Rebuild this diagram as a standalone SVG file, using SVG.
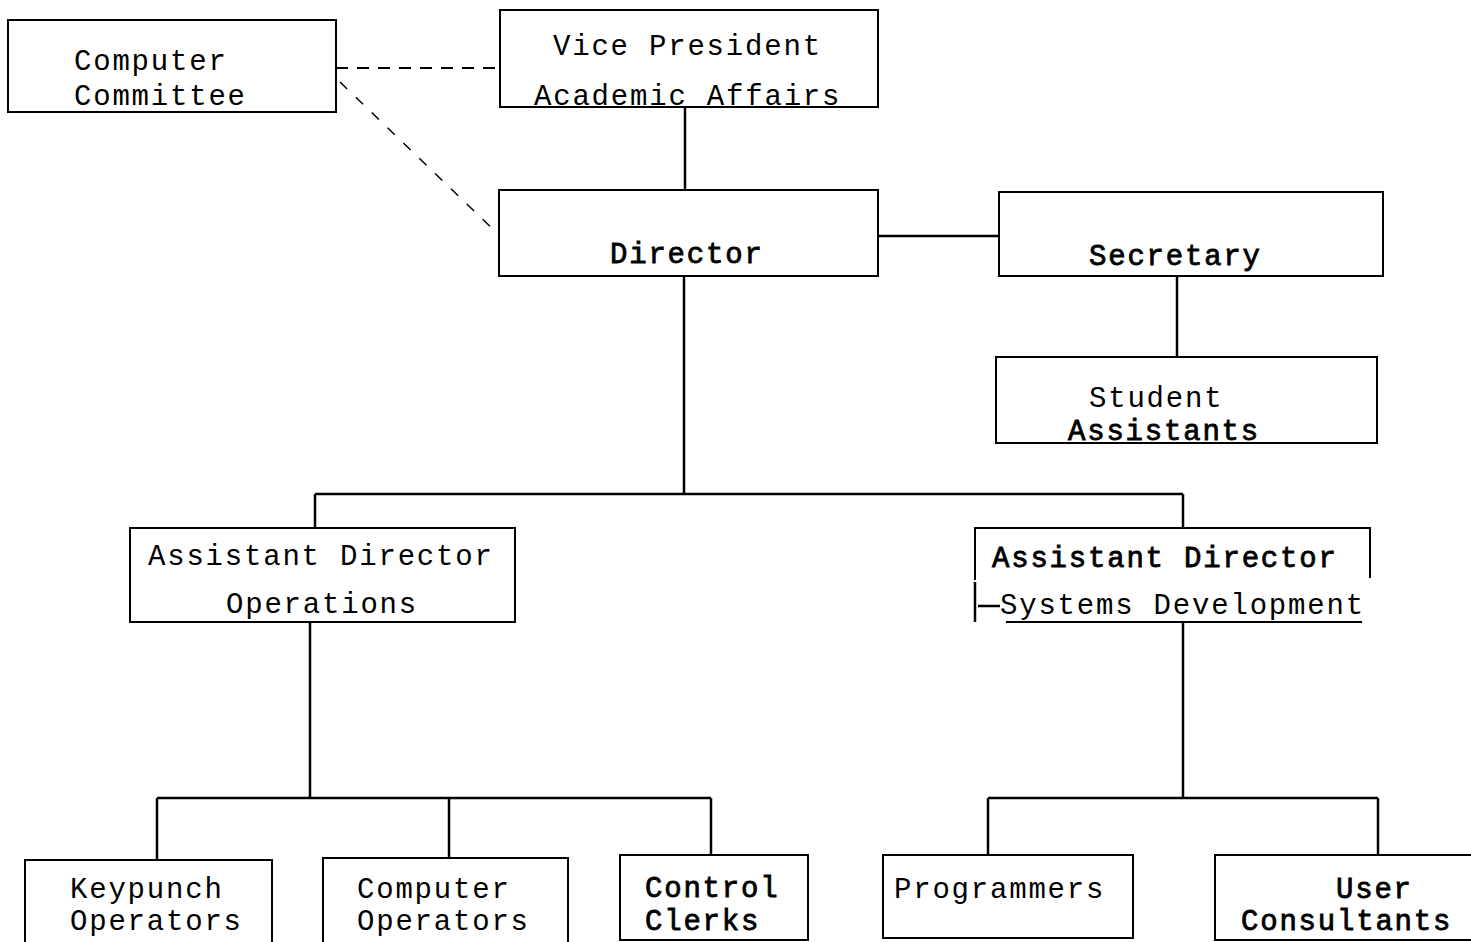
<svg xmlns="http://www.w3.org/2000/svg" width="1471" height="942" viewBox="0 0 1471 942">
<style>
.box{fill:none;stroke:#000;stroke-width:2}
.ln{fill:none;stroke:#000;stroke-width:2.5}
.dash{fill:none;stroke:#000;stroke-width:2;stroke-dasharray:12 9}
.dash2{fill:none;stroke:#000;stroke-width:1.5;stroke-dasharray:10 12}
text{font-family:"Liberation Mono","Courier New",monospace;font-size:29px;letter-spacing:1.8px;fill:#000}
.b{stroke:#000;stroke-width:0.8}
</style>
<rect width="1471" height="942" fill="#fff"/>
<g id="connectors">
<line class="dash" x1="336" y1="68" x2="500" y2="68"/>
<line class="dash2" x1="340" y1="82" x2="498" y2="234"/>
<line class="ln" x1="685" y1="107" x2="685" y2="190"/>
<line class="ln" x1="878" y1="236" x2="999" y2="236"/>
<line class="ln" x1="1177" y1="276" x2="1177" y2="357"/>
<line class="ln" x1="684" y1="276" x2="684" y2="494"/>
<line class="ln" x1="315" y1="494" x2="1183" y2="494"/>
<line class="ln" x1="315" y1="494" x2="315" y2="528"/>
<line class="ln" x1="1183" y1="494" x2="1183" y2="528"/>
<line class="ln" x1="310" y1="622" x2="310" y2="798"/>
<line class="ln" x1="157" y1="798" x2="711" y2="798"/>
<line class="ln" x1="157" y1="798" x2="157" y2="860"/>
<line class="ln" x1="449" y1="798" x2="449" y2="858"/>
<line class="ln" x1="711" y1="798" x2="711" y2="855"/>
<line class="ln" x1="1183" y1="622" x2="1183" y2="798"/>
<line class="ln" x1="988" y1="798" x2="1378" y2="798"/>
<line class="ln" x1="988" y1="798" x2="988" y2="855"/>
<line class="ln" x1="1378" y1="798" x2="1378" y2="855"/>
</g>
<g id="computer-committee">
<rect class="box" x="8" y="20" width="328" height="92"/>
<text x="74" y="70">Computer</text>
<text x="74" y="105">Committee</text>
</g>
<g id="vice-president">
<rect class="box" x="500" y="10" width="378" height="97"/>
<text x="553" y="55">Vice President</text>
<text x="534" y="105">Academic Affairs</text>
</g>
<g id="director">
<rect class="box" x="499" y="190" width="379" height="86"/>
<text class="b" x="610" y="263">Director</text>
</g>
<g id="secretary">
<rect class="box" x="999" y="192" width="384" height="84"/>
<text class="b" x="1089" y="265">Secretary</text>
</g>
<g id="student-assistants">
<rect class="box" x="996" y="357" width="381" height="86"/>
<text x="1089" y="407">Student</text>
<text class="b" x="1068" y="440">Assistants</text>
</g>
<g id="ad-operations">
<rect class="box" x="130" y="528" width="385" height="94"/>
<text x="148" y="565">Assistant Director</text>
<text x="226" y="613">Operations</text>
</g>
<g id="ad-systems">
<path class="box" d="M975 580 V528 H1370 V578"/>
<path class="ln" d="M975 582 V622"/>
<line class="box" x1="1006" y1="622" x2="1362" y2="622"/>
<line class="ln" x1="978" y1="606" x2="1000" y2="606" stroke-width="4"/>
<text class="b" x="992" y="567">Assistant Director</text>
<text x="1000" y="614">Systems Development</text>
</g>
<g id="keypunch">
<rect class="box" x="25" y="860" width="247" height="90"/>
<text x="70" y="898">Keypunch</text>
<text x="70" y="930">Operators</text>
</g>
<g id="computer-operators">
<rect class="box" x="323" y="858" width="245" height="90"/>
<text x="357" y="898">Computer</text>
<text x="357" y="930">Operators</text>
</g>
<g id="control-clerks">
<rect class="box" x="620" y="855" width="188" height="85"/>
<text class="b" x="645" y="897">Control</text>
<text class="b" x="645" y="930">Clerks</text>
</g>
<g id="programmers">
<rect class="box" x="883" y="855" width="250" height="83"/>
<text x="894" y="898">Programmers</text>
</g>
<g id="user-consultants">
<path class="box" d="M1471 855 H1215 V940 H1471"/>
<text class="b" x="1336" y="898">User</text>
<text class="b" x="1241" y="930">Consultants</text>
</g>
</svg>
